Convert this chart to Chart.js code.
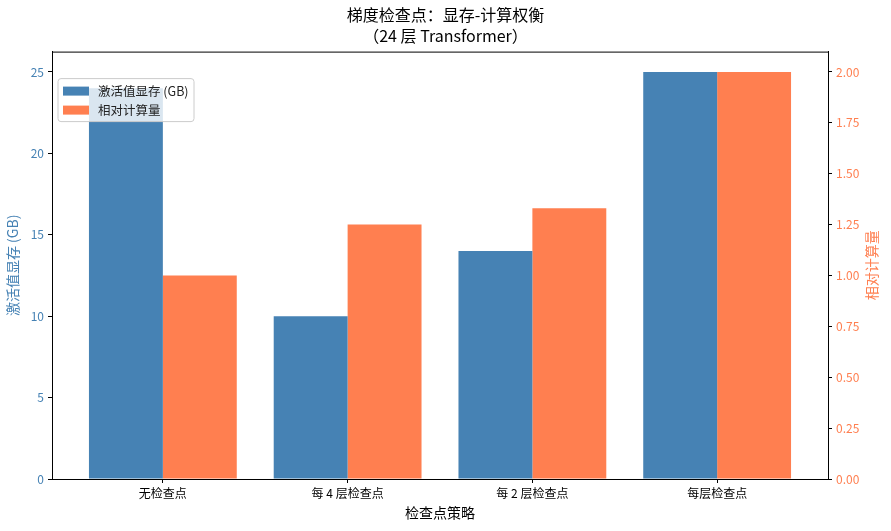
<!DOCTYPE html>
<html>
<head>
<meta charset="utf-8">
<script src="https://cdn.jsdelivr.net/npm/chart.js@4.4.1/dist/chart.umd.min.js"></script>
<style>
  html, body { margin: 0; padding: 0; background: #fff; }
  #wrap { width: 891px; height: 531px; }
</style>
</head>
<body>
<div id="wrap"><canvas id="chart" width="891" height="531"></canvas></div>
<script>
const strategies = ["无检查点", "每 4 层检查点", "每 2 层检查点", "每层检查点"];
const memoryGB = [24, 10, 14, 25];
const relativeCompute = [1.0, 1.25, 1.33, 2.0];
const memoryTicks = [0, 5, 10, 15, 20, 25];
const computeTicks = [0, 0.25, 0.5, 0.75, 1.0, 1.25, 1.5, 1.75, 2.0];

const BLUE = "#4682b4";
const ORANGE = "#ff7f50";
const FONT = "'Noto Sans CJK SC', 'Noto Sans', sans-serif";

// box round the plot area
const frame = {
  id: "frame",
  afterDraw(chart) {
    const { ctx, chartArea: a } = chart;
    ctx.save();
    ctx.strokeStyle = "#000";
    ctx.lineWidth = 1;
    ctx.strokeRect(a.left + 0.5, a.top + 0.5, a.right - a.left, a.bottom - a.top);
    ctx.restore();
  },
};

// right axis title, read bottom to top like matplotlib
const rightTitle = {
  id: "rightTitle",
  afterDraw(chart) {
    const { ctx, chartArea: a } = chart;
    ctx.save();
    ctx.translate(chart.width - 19, (a.top + a.bottom) / 2);
    ctx.rotate(-Math.PI / 2);
    ctx.font = "14px " + FONT;
    ctx.fillStyle = ORANGE;
    ctx.textAlign = "center";
    ctx.textBaseline = "middle";
    ctx.fillText("相对计算量", 0, 0);
    ctx.restore();
  },
};

// matplotlib-like legend in the upper left corner
const innerLegend = {
  id: "innerLegend",
  afterDatasetsDraw(chart) {
    const { ctx, chartArea: a } = chart;
    const x = a.left + 6, y = a.top + 27, w = 136, h = 43;
    ctx.save();
    ctx.globalAlpha = 0.8;
    ctx.fillStyle = "#fff";
    ctx.beginPath();
    ctx.roundRect(x, y, w, h, 3);
    ctx.fill();
    ctx.globalAlpha = 1;
    ctx.strokeStyle = "#cccccc";
    ctx.lineWidth = 1;
    ctx.stroke();
    ctx.font = "12.5px " + FONT;
    ctx.textBaseline = "middle";
    chart.data.datasets.forEach((ds, i) => {
      const ry = y + 8 + i * 19;
      ctx.fillStyle = ds.backgroundColor;
      ctx.fillRect(x + 5, ry, 26, 9);
      ctx.fillStyle = "#222";
      ctx.fillText(ds.label, x + 40, ry + 5);
    });
    ctx.restore();
  },
};

new Chart(document.getElementById("chart"), {
  type: "bar",
  data: {
    datasets: [
      {
        label: "激活值显存 (GB)",
        data: memoryGB.map((v, i) => ({ x: i, y: v })),
        backgroundColor: BLUE,
        yAxisID: "y",
        categoryPercentage: 0.8,
        barPercentage: 1.0,
      },
      {
        label: "相对计算量",
        data: relativeCompute.map((v, i) => ({ x: i, y: v })),
        backgroundColor: ORANGE,
        yAxisID: "y1",
        categoryPercentage: 0.8,
        barPercentage: 1.0,
      },
    ],
  },
  options: {
    responsive: false,
    animation: false,
    layout: { padding: { left: 0, right: 0, top: 0, bottom: 0 } },
    plugins: {
      legend: { display: false },
      tooltip: { enabled: false },
      title: {
        display: true,
        text: ["梯度检查点：显存-计算权衡", "（24 层 Transformer）"],
        color: "#000",
        font: { family: FONT, size: 16, weight: "normal", lineHeight: 1.3 },
        padding: { top: 5, bottom: 5 },
      },
    },
    scales: {
      x: {
        type: "linear",
        min: -0.6,
        max: 3.6,
        offset: false,
        afterBuildTicks(axis) {
          axis.ticks = strategies.map((_, i) => ({ value: i }));
        },
        afterFit(axis) { axis.height = 52; },
        ticks: {
          color: "#000",
          font: { family: FONT, size: 12 },
          padding: 3,
          autoSkip: false,
          maxRotation: 0,
          callback: (v) => strategies[v],
        },
        grid: { display: true, drawOnChartArea: false, drawTicks: true, tickLength: 4, color: "#000", offset: false },
        border: { display: true, color: "#000" },
        title: { display: true, text: "检查点策略", color: "#000", font: { family: FONT, size: 14 }, padding: { top: 0, bottom: 10 } },
      },
      y: {
        position: "left",
        min: 0,
        max: 26.25,
        afterBuildTicks(axis) {
          axis.ticks = memoryTicks.map((v) => ({ value: v }));
        },
        afterFit(axis) { axis.width = 52; },
        ticks: { color: BLUE, font: { family: FONT, size: 12 }, padding: 4 },
        grid: { display: true, drawOnChartArea: false, drawTicks: true, tickLength: 4, color: "#000" },
        border: { display: true, color: "#000" },
        title: { display: true, text: "激活值显存 (GB)", color: BLUE, font: { family: FONT, size: 14 }, padding: { top: 4, bottom: 2 } },
      },
      y1: {
        position: "right",
        min: 0,
        max: 2.1,
        afterBuildTicks(axis) {
          axis.ticks = computeTicks.map((v) => ({ value: v }));
        },
        afterFit(axis) { axis.width = 63; },
        ticks: { color: ORANGE, font: { family: FONT, size: 12 }, padding: 4, callback: (v) => v.toFixed(2) },
        grid: { display: true, drawOnChartArea: false, drawTicks: true, tickLength: 4, color: "#000" },
        border: { display: true, color: "#000" },
        title: { display: false },
      },
    },
  },
  plugins: [frame, rightTitle, innerLegend],
});
</script>
</body>
</html>
